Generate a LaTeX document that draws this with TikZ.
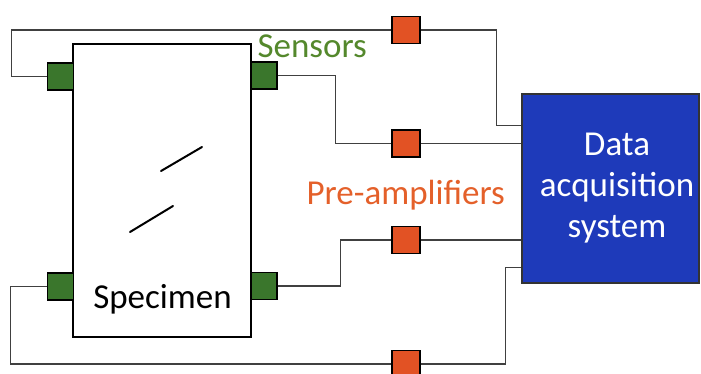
\documentclass[tikz,border=0pt]{standalone}
\usepackage{fontspec}
\setmainfont{Carlito}
\usepackage{tikz}
\usetikzlibrary{positioning, calc}

\definecolor{sensorgreen}{RGB}{58,118,44}
\definecolor{labelgreen}{RGB}{84,136,44}
\definecolor{ampred}{RGB}{226,82,36}
\definecolor{labelorange}{RGB}{228,96,42}
\definecolor{daqblue}{RGB}{30,58,186}

\begin{document}
\begin{tikzpicture}[
  x=1pt, y=-1pt,
  big/.style={font=\fontsize{35}{41}\selectfont},
  sensor/.style={draw=black, line width=1.3pt, fill=sensorgreen, minimum width=26pt,
                 minimum height=27pt, inner sep=0pt},
  amp/.style={draw=black, line width=1.3pt, fill=ampred, minimum width=28pt,
              minimum height=27pt, inner sep=0pt},
  wire/.style={draw=black!75, line width=1.1pt},
  crack/.style={line width=2pt, line cap=round}
]
\useasboundingbox (0,0) rectangle (701,373);

\node[draw, line width=1.6pt, fill=white, minimum width=178pt, minimum height=293pt,
      inner sep=0pt] (spec) at (162,190.5) {};
\node[big, anchor=base] (speclabel) at (162.5,308) {Specimen};
\draw[crack] (161,171) -- (202,147);
\draw[crack] (130,232) -- (173,206);

\node[sensor] (s1) at (60.5,76.5) {};
\node[sensor] (s2) at (264,75.5) {};
\node[sensor] (s3) at (60.5,286.5) {};
\node[sensor] (s4) at (264,286) {};
\node[big, text=labelgreen, anchor=base west] (senslabel) at (254,57) {Sensors};

\node[amp] (p1) at (406,30) {};
\node[amp] (p2) at (406,143.5) {};
\node[amp] (p3) at (406,240) {};
\node[amp] (p4) at (406,364) {};
\node[big, text=labelorange, anchor=base west] (amplabel) at (303,204) {Pre-amplifiers};

\node[draw=black!80, line width=1.3pt, fill=daqblue, minimum width=177pt,
      minimum height=189pt, inner sep=0pt] (daq) at (610.5,188.5) {};
\node[big, text=white, align=center] (daqlabel) at (617,188) {Data\\acquisition\\system};

\draw[wire] (s1.west) -- ++(-35,0) |- (p1.west);
\draw[wire] (p1.east) -- ++(76,0) |- ([yshift=-32pt]daq.north west);
\draw[wire] (s2.east) -- ++(58,0) |- (p2.west);
\draw[wire] (p2.east) -- (p2.east -| daq.west);
\draw[wire] (s4.east) -- ++(63,0) |- (p3.west);
\draw[wire] (p3.east) -- (p3.east -| daq.west);
\draw[wire] (s3.west) -- ++(-36,0) |- (p4.west);
\draw[wire] (p4.east) -- ++(85,0) |- ([yshift=16pt]daq.south west);
\end{tikzpicture}
\end{document}
